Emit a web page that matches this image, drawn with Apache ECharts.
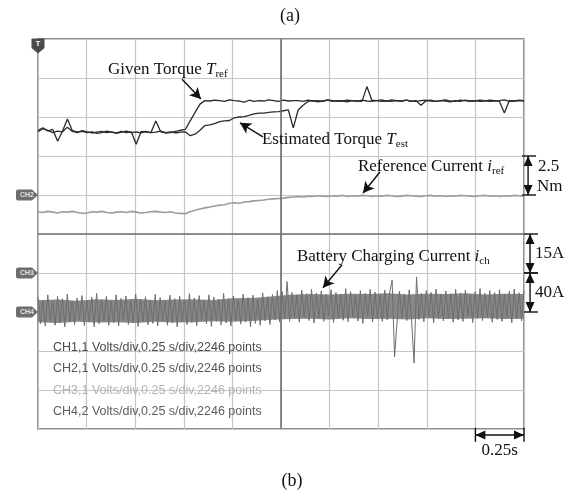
<!DOCTYPE html>
<html>
<head>
<meta charset="utf-8">
<script src="https://cdn.jsdelivr.net/npm/echarts@6/dist/echarts.min.js"></script>
<style>
  html, body { margin: 0; background: #fff; }
  #chart { width: 573px; height: 494px; }
</style>
</head>
<body>
<div id="chart"></div>
<script>
// scope record: 10 div x 0.25 s/div, values in divisions
var SPAN = 2.5

var torqueRef = [
  7.66, 7.72, 7.64, 7.68, 7.38, 7.64, 7.95, 7.65, 7.62, 7.63,
  7.60, 7.62, 7.58, 7.60, 7.64, 7.61, 7.59, 7.63, 7.60, 7.62,
  7.30, 7.63, 7.61, 7.60, 7.90, 7.62, 7.59, 7.60, 7.63, 7.66,
  7.68, 7.90, 8.12, 8.33, 8.42, 8.41, 8.43, 8.42, 8.40, 8.44,
  8.42, 8.41, 8.38, 8.43, 8.40, 8.42, 8.41, 8.44, 8.42, 8.40,
  8.43, 8.41, 8.42, 8.42, 8.40, 8.43, 8.41, 8.42, 8.40, 8.44,
  8.42, 8.40, 8.41, 8.43, 8.42, 8.41, 8.40, 8.78, 8.43, 8.42,
  8.40, 8.41, 8.44, 8.42, 8.40, 8.43, 8.41, 8.40, 8.42, 8.43,
  8.41, 8.40, 8.42, 8.44, 8.41, 8.40, 8.43, 8.42, 8.40, 8.41,
  8.43, 8.42, 8.40, 8.41, 8.42, 8.44, 8.40, 8.41, 8.42, 8.41
]

var torqueEst = [
  7.62, 7.70, 7.66, 7.60, 7.64, 7.62, 7.74, 7.63, 7.60, 7.65,
  7.62, 7.59, 7.61, 7.63, 7.60, 7.62, 7.58, 7.61, 7.64, 7.60,
  7.62, 7.59, 7.63, 7.60, 7.61, 7.64, 7.60, 7.62, 7.59, 7.61,
  7.62, 7.52, 7.56, 7.66, 7.78, 7.80, 7.83, 7.88, 7.90, 7.91,
  7.98, 8.00, 8.01, 8.04, 8.08, 8.10, 8.10, 8.12, 8.13, 8.14,
  8.16, 8.18, 7.72, 8.18, 8.30, 8.40, 8.42, 8.39, 8.41, 8.43,
  8.40, 8.42, 8.41, 8.39, 8.42, 8.40, 8.43, 8.41, 8.40, 8.42,
  8.44, 8.41, 8.40, 8.42, 8.41, 8.43, 8.40, 8.42, 8.30, 8.41,
  8.43, 8.40, 8.42, 8.41, 8.39, 8.42, 8.40, 8.43, 8.41, 8.42,
  8.40, 8.41, 8.43, 8.42, 8.40, 8.10, 8.42, 8.41, 8.43, 8.42
]

var currentRef = [
  5.57, 5.55, 5.58, 5.56, 5.54, 5.57, 5.56, 5.58, 5.55, 5.53,
  5.54, 5.57, 5.56, 5.58, 5.55, 5.54, 5.56, 5.57, 5.55, 5.58,
  5.56, 5.54, 5.55, 5.57, 5.58, 5.56, 5.55, 5.57, 5.54, 5.53,
  5.52, 5.57, 5.61, 5.64, 5.67, 5.69, 5.72, 5.74, 5.75, 5.79,
  5.80, 5.79, 5.82, 5.83, 5.85, 5.86, 5.87, 5.89, 5.90, 5.91,
  5.92, 5.94, 5.95, 5.96, 5.95, 5.97, 5.96, 5.98, 5.97, 5.96,
  5.98, 5.97, 5.99, 5.96, 5.98, 5.97, 5.99, 5.98, 5.96, 5.98,
  5.97, 5.99, 5.98, 5.96, 5.97, 5.99, 5.98, 5.97, 5.96, 5.98,
  5.99, 5.97, 5.98, 5.96, 5.98, 5.97, 5.99, 5.98, 5.97, 5.96,
  5.98, 5.99, 5.97, 5.98, 5.96, 5.98, 5.97, 5.99, 5.98, 5.97
]

var chargeCurrent = [
  3.38, 2.70, 3.30, 2.64, 3.44, 2.78, 3.26, 2.66, 3.40, 2.72,
  3.34, 2.62, 3.46, 2.75, 3.28, 2.68, 3.36, 2.80, 3.42, 2.65,
  3.30, 2.74, 3.38, 2.62, 3.48, 2.70, 3.32, 2.77, 3.40, 2.66,
  3.27, 2.72, 3.44, 2.64, 3.35, 2.79, 3.41, 2.68, 3.29, 2.73,
  3.46, 2.63, 3.33, 2.76, 3.39, 2.67, 3.31, 2.71, 3.45, 2.64,
  3.37, 2.78, 3.28, 2.66, 3.43, 2.72, 3.34, 2.62, 3.40, 2.75,
  3.30, 2.68, 3.47, 2.73, 3.36, 2.65, 3.42, 2.79, 3.29, 2.70,
  3.44, 2.63, 3.38, 2.76, 3.33, 2.67, 3.48, 2.72, 3.35, 2.64,
  3.41, 2.78, 3.30, 2.69, 3.46, 2.74, 3.37, 2.62, 3.43, 2.71,
  3.32, 2.66, 3.49, 2.77, 3.39, 2.68, 3.45, 2.80, 3.55, 2.74,
  3.52, 2.83, 3.78, 2.76, 3.50, 2.86, 3.44, 2.74, 3.56, 2.88,
  3.47, 2.78, 3.58, 2.72, 3.49, 2.85, 3.54, 2.76, 3.45, 2.90,
  3.57, 2.73, 3.50, 2.84, 3.46, 2.79, 3.60, 2.75, 3.52, 2.87,
  3.44, 2.77, 3.55, 2.71, 3.48, 2.89, 3.58, 2.74, 3.51, 2.82,
  3.46, 2.76, 3.56, 2.80, 3.49, 3.82, 1.85, 2.73, 3.53, 2.86,
  3.45, 2.78, 3.57, 2.74, 1.69, 3.90, 2.81, 3.48, 2.75, 3.55,
  2.88, 3.50, 2.72, 3.59, 2.83, 3.46, 2.77, 3.54, 2.85, 3.47,
  2.74, 3.58, 2.80, 3.49, 2.76, 3.56, 2.89, 3.45, 2.73, 3.52,
  2.84, 3.60, 2.78, 3.48, 2.86, 3.55, 2.74, 3.50, 2.81, 3.57,
  2.76, 3.46, 2.88, 3.53, 2.72, 3.59, 2.83, 3.49, 2.77, 3.54
]

// dense core of the charging-current band (upper / lower edge, every 0.1 s)
var chargeHigh = [
  3.30, 3.32, 3.29, 3.33, 3.31, 3.34, 3.30, 3.32, 3.33, 3.31, 3.35, 3.36, 3.40,
  3.44, 3.46, 3.45, 3.47, 3.46, 3.48, 3.45, 3.47, 3.46, 3.48, 3.45, 3.47, 3.46
]
var chargeLow = [
  2.74, 2.72, 2.75, 2.73, 2.74, 2.72, 2.75, 2.73, 2.74, 2.76, 2.75, 2.77, 2.80,
  2.82, 2.83, 2.81, 2.84, 2.82, 2.83, 2.81, 2.84, 2.82, 2.83, 2.84, 2.82, 2.83
]

var channelNames = ['CH2', 'CH3', 'CH4']
var channelLevels = [6, 4, 3]

var infoLines = [
  'CH1,1 Volts/div,0.25 s/div,2246 points',
  'CH2,1 Volts/div,0.25 s/div,2246 points',
  'CH3,1 Volts/div,0.25 s/div,2246 points',
  'CH4,2 Volts/div,0.25 s/div,2246 points'
]
var infoColors = ['#4a4a4a', '#555555', '#b4b4b4', '#5e5e5e']

var SERIF = '"Liberation Serif", "Times New Roman", serif'
var SANS = '"Liberation Sans", Arial, sans-serif'

function toPoints(arr) {
  return arr.map(function(v, i) { return [i * SPAN / (arr.length - 1), v] })
}

var richText = {
  m: { fontFamily: SERIF, fontSize: 17, color: '#111', lineHeight: 20 },
  i: { fontFamily: SERIF, fontSize: 17, fontStyle: 'italic', color: '#111', lineHeight: 20 },
  s: { fontFamily: SERIF, fontSize: 11, color: '#111', lineHeight: 20, verticalAlign: 'bottom' }
}

function note(x, y, text) {
  return {
    coord: [x, y],
    label: { show: true, position: 'right', distance: 0, formatter: text, rich: richText }
  }
}

function arrow(x1, y1, x2, y2) {
  return [{ coord: [x1, y1], symbol: 'none' }, { coord: [x2, y2], symbol: 'arrow' }]
}

var chart = echarts.init(document.getElementById('chart'), null, { renderer: 'canvas' })

var option = {
  animation: false,
  backgroundColor: '#fff',
  grid: {
    left: 38, top: 39, width: 486, height: 390,
    show: true, borderColor: '#6a6a6a', borderWidth: 1.5, backgroundColor: '#fff'
  },
  xAxis: {
    type: 'value', min: 0, max: SPAN, interval: 0.25,
    axisLine: { show: false }, axisTick: { show: false }, axisLabel: { show: false },
    splitLine: { show: true, lineStyle: { color: '#c6c6c6', width: 1.2 } }
  },
  yAxis: {
    type: 'value', min: 0, max: 10, interval: 1,
    axisLine: { show: false }, axisTick: { show: false }, axisLabel: { show: false },
    splitLine: { show: true, lineStyle: { color: '#c6c6c6', width: 1.2 } }
  },
  series: [
    {
      name: 'ichBand',
      type: 'custom',
      silent: true,
      z: 2,
      data: toPoints(chargeHigh).map(function(p, i) { return [p[0], chargeLow[i], p[1]] }),
      encode: { x: 0, y: [1, 2] },
      renderItem: function(params, api) {
        if (params.dataIndexInside !== 0) return
        var top = [], bottom = []
        for (var i = 0; i < chargeHigh.length; i++) {
          var t = i * SPAN / (chargeHigh.length - 1)
          top.push(api.coord([t, chargeHigh[i]]))
          bottom.unshift(api.coord([t, chargeLow[i]]))
        }
        return { type: 'polygon', shape: { points: top.concat(bottom) }, style: { fill: '#878787' } }
      }
    },
    {
      name: 'ich',
      type: 'line',
      data: toPoints(chargeCurrent),
      showSymbol: false,
      lineStyle: { color: '#6e6e6e', width: 1 },
      z: 2
    },
    {
      name: 'iref',
      type: 'line',
      data: toPoints(currentRef),
      showSymbol: false,
      lineStyle: { color: '#9c9c9c', width: 1.6 },
      z: 3
    },
    {
      name: 'Test',
      type: 'line',
      data: toPoints(torqueEst),
      showSymbol: false,
      lineStyle: { color: '#2b2b2b', width: 1.3 },
      z: 4
    },
    {
      name: 'Tref',
      type: 'line',
      data: toPoints(torqueRef),
      showSymbol: false,
      lineStyle: { color: '#2b2b2b', width: 1.3 },
      z: 4
    },
    {
      name: 'markers',
      type: 'scatter',
      clip: false,
      silent: true,
      z: 6,
      data: channelNames.map(function(n, i) { return { name: n, value: [0, channelLevels[i]] } }),
      symbol: 'path://M2,0 L16,0 L22,5 L16,10 L2,10 Q0,10 0,8 L0,2 Q0,0 2,0 Z',
      symbolSize: [22, 11],
      symbolOffset: [-11, 0],
      itemStyle: { color: '#4a4a4a' },
      label: { show: true, position: 'inside', formatter: '{b}', color: '#fff', fontSize: 7, fontWeight: 'bold', fontFamily: SANS },
      markPoint: {
        symbol: 'path://M1,0 L13,0 Q14,0 14,1 L14,10 L7,16 L0,10 L0,1 Q0,0 1,0 Z',
        symbolSize: [13, 15],
        symbolOffset: [0, 7],
        itemStyle: { color: '#4a4a4a' },
        label: { show: true, position: 'inside', offset: [0, -2], formatter: 'T', color: '#fff', fontSize: 8, fontWeight: 'bold', fontFamily: SANS },
        data: [{ coord: [0, 10] }]
      }
    },
    {
      name: 'notes',
      type: 'scatter',
      clip: false,
      silent: true,
      z: 7,
      data: [],
      markPoint: {
        symbol: 'circle',
        symbolSize: 0,
        data: [
          note(0.36, 9.21, '{m|Given Torque }{i|T}{s|ref}'),
          note(1.152, 7.41, '{m|Estimated Torque }{i|T}{s|est}'),
          note(1.646, 6.72, '{m|Reference Current }{i|i}{s|ref}'),
          note(1.332, 4.41, '{m|Battery Charging Current }{i|i}{s|ch}')
        ]
      },
      markLine: {
        silent: true,
        symbolSize: [9, 11],
        label: { show: false },
        lineStyle: { color: '#111', width: 1.4, type: 'solid' },
        data: [
          arrow(0.741, 8.97, 0.838, 8.46),
          arrow(1.157, 7.49, 1.039, 7.85),
          arrow(1.759, 6.59, 1.672, 6.05),
          arrow(1.564, 4.21, 1.466, 3.62)
        ]
      }
    },
    {
      name: 'centre',
      type: 'line',
      data: [],
      z: 1,
      markLine: {
        silent: true,
        symbol: 'none',
        label: { show: false },
        lineStyle: { color: '#707070', width: 1.6, type: 'solid' },
        data: [{ xAxis: 1.25 }, { yAxis: 5 }]
      }
    }
  ]
}

chart.setOption(option)

// scale bars sit outside the graticule, so place them from the axis scales
function px(x, y) { return chart.convertToPixel({ gridIndex: 0 }, [x, y]) }

function line(a, b) {
  return { type: 'line', silent: true, z: 20, shape: { x1: a[0], y1: a[1], x2: b[0], y2: b[1] }, style: { stroke: '#111', lineWidth: 1.4 } }
}

function head(tip, dx, dy) {
  // dx, dy: unit direction the arrow points to
  var l = 10, w = 4.5
  return {
    type: 'polygon', silent: true, z: 20,
    shape: { points: [
      [tip[0], tip[1]],
      [tip[0] - dx * l - dy * w, tip[1] - dy * l + dx * w],
      [tip[0] - dx * l + dy * w, tip[1] - dy * l - dx * w]
    ] },
    style: { fill: '#111' }
  }
}

function vbar(x, y1, y2, tickFrom, tickTo) {
  var a = px(x, y1), b = px(x, y2)
  return [
    line(a, b), head(a, 0, -1), head(b, 0, 1),
    line(px(tickFrom, y1), px(tickTo, y1)),
    line(px(tickFrom, y2), px(tickTo, y2))
  ]
}

function label(x, y, text, align) {
  var p = px(x, y)
  return {
    type: 'text', silent: true, z: 20, x: p[0], y: p[1],
    style: { text: text, font: '17px ' + SERIF, fill: '#111', textAlign: align || 'left', textVerticalAlign: 'middle' }
  }
}

var extras = []
extras = extras.concat(vbar(2.521, 7, 6, 2.49, 2.562))
extras = extras.concat(vbar(2.531, 5, 4, 2.5, 2.572))
extras = extras.concat(vbar(2.531, 4, 3, 2.5, 2.572))
var h1 = px(2.25, -0.154), h2 = px(2.5, -0.154)
extras.push(line(h1, h2), head(h1, -1, 0), head(h2, 1, 0))
extras.push(line(px(2.25, 0.03), px(2.25, -0.33)), line(px(2.5, 0.03), px(2.5, -0.33)))
extras.push(
  label(2.572, 6.74, '2.5'),
  label(2.567, 6.21, 'Nm'),
  label(2.557, 4.5, '15A'),
  label(2.557, 3.5, '40A'),
  label(2.375, -0.54, '0.25s', 'center')
)

var texts = [
  { type: 'text', x: 290, y: 16, style: { text: '(a)', font: '18px ' + SERIF, fill: '#111', textAlign: 'center', textVerticalAlign: 'middle' } },
  { type: 'text', x: 292, y: 481, style: { text: '(b)', font: '18px ' + SERIF, fill: '#111', textAlign: 'center', textVerticalAlign: 'middle' } }
].concat(infoLines.map(function(t, i) {
  return {
    type: 'text', x: 53, y: [348, 369, 391, 412][i], z: 1,
    style: { text: t, font: '12.5px ' + SANS, fill: infoColors[i], textVerticalAlign: 'middle' }
  }
}))

chart.setOption({ graphic: texts.concat(extras) })
</script>
</body>
</html>
